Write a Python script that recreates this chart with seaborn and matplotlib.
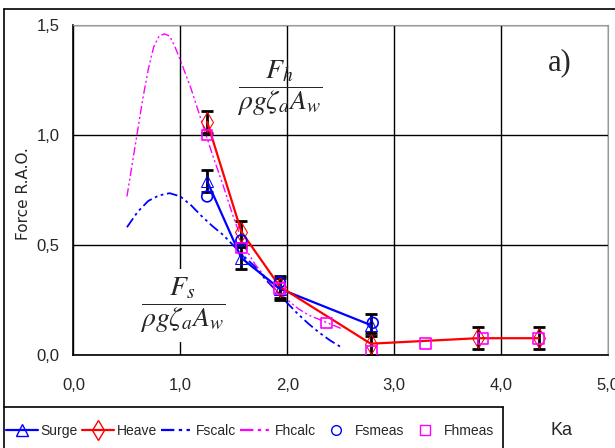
import pandas as pd
import seaborn as sns
import matplotlib.pyplot as plt
from matplotlib.lines import Line2D

ka_surge = [1.25, 1.57, 1.93, 2.78]
surge = [0.79, 0.44, 0.30, 0.135]
surge_err = [0.05, 0.05, 0.05, 0.05]

ka_heave = [1.25, 1.57, 1.93, 2.78, 3.78, 4.35]
heave = [1.06, 0.56, 0.31, 0.05, 0.075, 0.075]
heave_err = [0.05, 0.05, 0.05, 0.05, 0.05, 0.05]

ka_fscalc = [0.5, 0.6, 0.7, 0.8, 0.9, 1.0, 1.1, 1.2, 1.3, 1.4, 1.5,
             1.6, 1.7, 1.8, 1.9, 2.0, 2.1, 2.2, 2.3, 2.4, 2.5]
fscalc = [0.58, 0.65, 0.70, 0.725, 0.735, 0.72, 0.68, 0.63, 0.585, 0.545, 0.495,
          0.445, 0.40, 0.34, 0.29, 0.235, 0.185, 0.14, 0.10, 0.065, 0.035]

ka_fhcalc = [0.5, 0.55, 0.6, 0.65, 0.7, 0.75, 0.8, 0.85, 0.9, 0.95, 1.0, 1.1, 1.2,
             1.3, 1.4, 1.5, 1.6, 1.7, 1.8, 1.9, 2.0, 2.1, 2.2, 2.3, 2.4, 2.5]
fhcalc = [0.72, 0.87, 1.02, 1.17, 1.30, 1.40, 1.45, 1.46, 1.45, 1.40, 1.34, 1.21, 1.06,
          0.91, 0.77, 0.62, 0.49, 0.41, 0.35, 0.29, 0.25, 0.21, 0.18, 0.16, 0.14, 0.12]

ka_fsmeas = [1.25, 1.57, 1.93, 2.80]
fsmeas = [0.72, 0.52, 0.33, 0.145]

ka_fhmeas = [1.25, 1.57, 1.93, 2.37, 2.79, 3.29, 3.83, 4.35]
fhmeas = [1.00, 0.485, 0.30, 0.144, 0.014, 0.052, 0.075, 0.075]

xticks = [0, 1, 2, 3, 4, 5]
xtick_labels = ["0,0", "1,0", "2,0", "3,0", "4,0", "5,0"]
yticks = [0, 0.5, 1.0, 1.5]
ytick_labels = ["0,0", "0,5", "1,0", "1,5"]

sns.set_style("white")
plt.rcParams['font.family'] = ['Liberation Sans', 'DejaVu Sans']
plt.rcParams['mathtext.fontset'] = 'stix'

fig = plt.figure(figsize=(6.15, 4.48), dpi=100)
ax = fig.add_axes([0.1195, 0.2083, 0.8691, 0.7357])

BLUE = '#0000ff'
RED = '#ff0000'
MAG = '#ff00ff'
DASHDOT = [6, 2, 1.5, 2, 1.5, 2]

# calculated curves
sns.lineplot(x=ka_fscalc, y=fscalc, ax=ax, color=BLUE, lw=1.3, zorder=3)
ax.lines[-1].set_dashes(DASHDOT)
sns.lineplot(x=ka_fhcalc, y=fhcalc, ax=ax, color=MAG, lw=1.0, zorder=3)
ax.lines[-1].set_dashes(DASHDOT)

# error bars
ax.errorbar(ka_surge, surge, yerr=surge_err, fmt='none', ecolor='black',
            elinewidth=2, capsize=4, capthick=2, zorder=4)
ax.errorbar(ka_heave, heave, yerr=heave_err, fmt='none', ecolor='black',
            elinewidth=2, capsize=4, capthick=2, zorder=4)

# fitted lines
sns.lineplot(x=ka_surge, y=surge, ax=ax, color=BLUE, lw=1.6, marker='^', ms=8,
             markerfacecolor='none', markeredgecolor=BLUE, zorder=5)
sns.lineplot(x=ka_heave, y=heave, ax=ax, color=RED, lw=1.6, marker='d', ms=10,
             markerfacecolor='none', markeredgecolor=RED, zorder=5)

# measured points
sns.scatterplot(x=ka_fsmeas, y=fsmeas, ax=ax, marker='o', s=60, facecolor='none',
                edgecolor=BLUE, linewidth=1.2, zorder=6)
sns.scatterplot(x=ka_fhmeas, y=fhmeas, ax=ax, marker='s', s=60, facecolor='none',
                edgecolor=MAG, linewidth=1.2, zorder=6)

ax.set_xlim(0, 5)
ax.set_ylim(0, 1.5)
ax.set_xticks(xticks)
ax.set_xticklabels(xtick_labels, fontsize=12)
ax.set_yticks(yticks)
ax.set_yticklabels(ytick_labels, fontsize=12)
ax.tick_params(axis='both', direction='out', length=5, width=1, color='black')
ax.tick_params(axis='x', pad=12)
ax.tick_params(axis='y', pad=5)
ax.grid(True, color='black', lw=1)
for s in ['top', 'right']:
    ax.spines[s].set_color('#999999')
for s in ['left', 'bottom']:
    ax.spines[s].set_color('black')
    ax.spines[s].set_linewidth(1.2)
ax.set_ylabel("Force R.A.O.", fontsize=11, family='DejaVu Sans')
ax.yaxis.set_label_coords(-0.08, 0.49)

# annotations
ax.text(1.93, 1.21, r"$\dfrac{F_h}{\rho g \zeta_a A_w}$", fontsize=20,
        ha='center', va='center', zorder=7)
ax.text(1.02, 0.225, r"$\dfrac{F_s}{\rho g \zeta_a A_w}$", fontsize=20,
        ha='center', va='center', zorder=7,
        bbox=dict(facecolor='white', edgecolor='none', pad=5))
ax.text(4.55, 1.33, "a)", fontsize=22, family='Liberation Serif',
        ha='center', va='center')

fig.text(562 / 615, 1 - 430 / 448, "Ka", fontsize=13, ha='center', va='center')

# outer chart border and legend box
fig.add_artist(Line2D([4 / 615, 4 / 615], [0, 1 - 9 / 448], color='black', lw=1.2))
fig.add_artist(Line2D([4 / 615, 1], [1 - 9 / 448, 1 - 9 / 448], color='black', lw=1.2))
fig.add_artist(Line2D([4 / 615, 503 / 615], [1 - 407 / 448, 1 - 407 / 448], color='black', lw=1.2))
fig.add_artist(Line2D([503 / 615, 503 / 615], [0, 1 - 407 / 448], color='black', lw=1.2))

# legend
handles = [
    Line2D([], [], color=BLUE, lw=1.6, marker='^', ms=8, markerfacecolor='none'),
    Line2D([], [], color=RED, lw=1.6, marker='d', ms=10, markerfacecolor='none'),
    Line2D([], [], color=BLUE, lw=1.6, dashes=DASHDOT),
    Line2D([], [], color=MAG, lw=1.6, dashes=DASHDOT),
    Line2D([], [], color=BLUE, lw=0, marker='o', ms=7, markerfacecolor='none'),
    Line2D([], [], color=MAG, lw=0, marker='s', ms=7, markerfacecolor='none'),
]
labels = ["Surge", "Heave", "Fscalc", "Fhcalc", "Fsmeas", "Fhmeas"]
fig.legend(handles, labels, loc='center left', bbox_to_anchor=(6 / 615, 1 - 431 / 448),
           ncol=6, fontsize=10, frameon=False,
           handlelength=2.3, handletextpad=0.2, columnspacing=0.3, borderpad=0,
           borderaxespad=0)

fig.savefig("out.png", dpi=100)
